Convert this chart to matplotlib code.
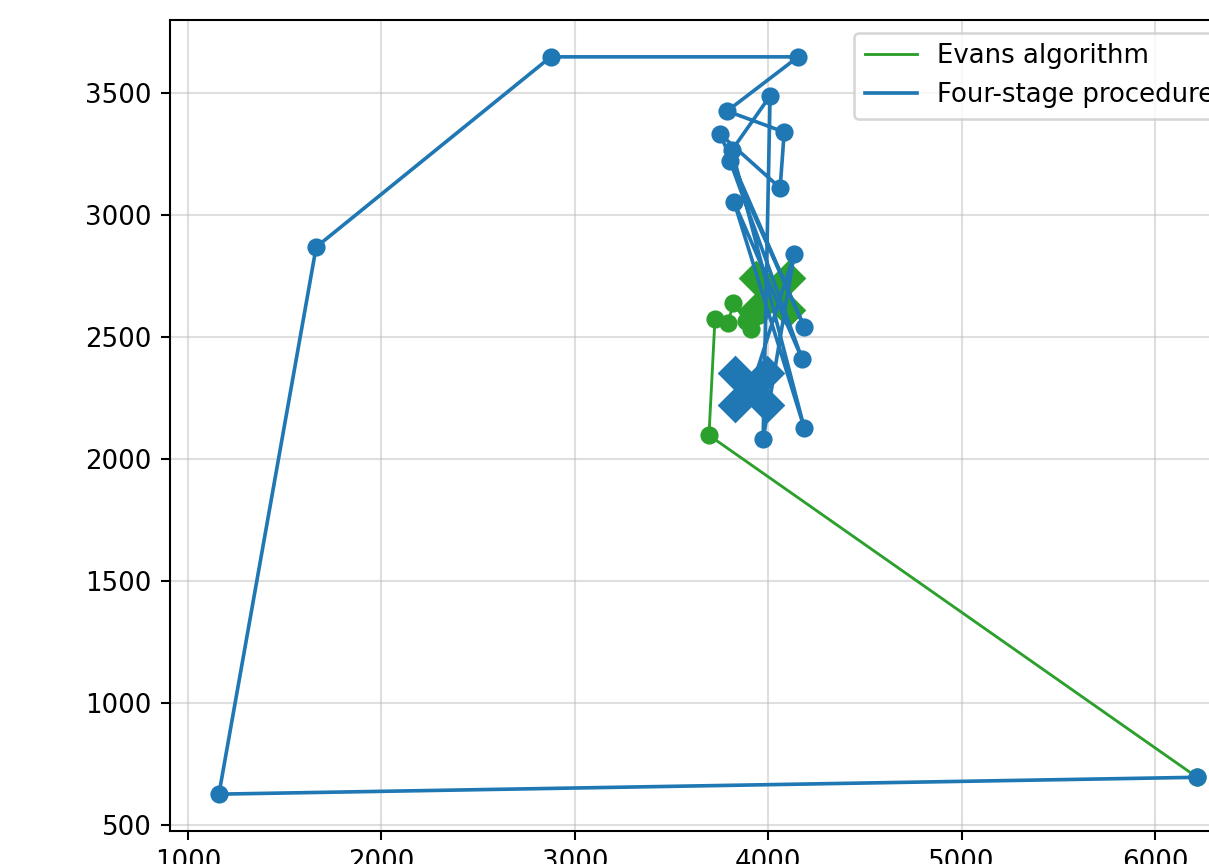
# iteration_paths.py

import numpy as np
import matplotlib.pyplot as plt

# Iterates of the Evans algorithm (start point first)
evans_x = [6218, 3694, 3725, 3793, 3819, 3886, 3912, 3955, 3990, 4010]
evans_y = [697, 2098, 2574, 2557, 2639, 2566, 2533, 2590, 2630, 2660]

# Iterates of the four-stage procedure (same start point)
four_stage_x = [6218, 1160, 1663, 2876, 4155, 3788, 4083, 4062, 3751, 4187,
                3803, 4176, 3824, 4187, 3813, 4010, 3974, 4135, 3912]
four_stage_y = [697, 628, 2869, 3648, 3648, 3426, 3340, 3111, 3332, 2541,
                3221, 2410, 3053, 2127, 3266, 3488, 2082, 2840, 2287]

# Final solutions
evans_final = (4020, 2675)
four_stage_final = (3912, 2287)

labels = ['Evans algorithm', 'Four-stage procedure']


def plot_paths():
    dpi = 187
    fig = plt.figure(figsize=(1209 / dpi, 864 / dpi), dpi=dpi)
    # axes run past the right edge of the picture, as in the original
    ax = fig.add_axes([170 / 1209, 33 / 864, 1076 / 1209, 811 / 864])

    green = '#2ca02c'
    blue = '#1f77b4'

    # Evans algorithm
    line_e, = ax.plot(evans_x, evans_y, color=green, lw=1.1, label=labels[0])
    ax.plot(evans_x, evans_y, 'o', color=green, ms=6)
    ax.plot(*evans_final, 'X', color=green, ms=25)

    # Four-stage procedure
    line_f, = ax.plot(four_stage_x, four_stage_y, color=blue, lw=1.4, label=labels[1])
    ax.plot(four_stage_x, four_stage_y, 'o', color=blue, ms=6)
    ax.plot(*four_stage_final, 'X', color=blue, ms=25)

    ax.grid(alpha=0.4)
    ax.legend(handles=[line_e, line_f], loc='upper right',
              bbox_to_anchor=(1 - 8 / 1076, 1))

    fig.savefig('out.png', dpi=dpi)


if __name__ == '__main__':
    plot_paths()
